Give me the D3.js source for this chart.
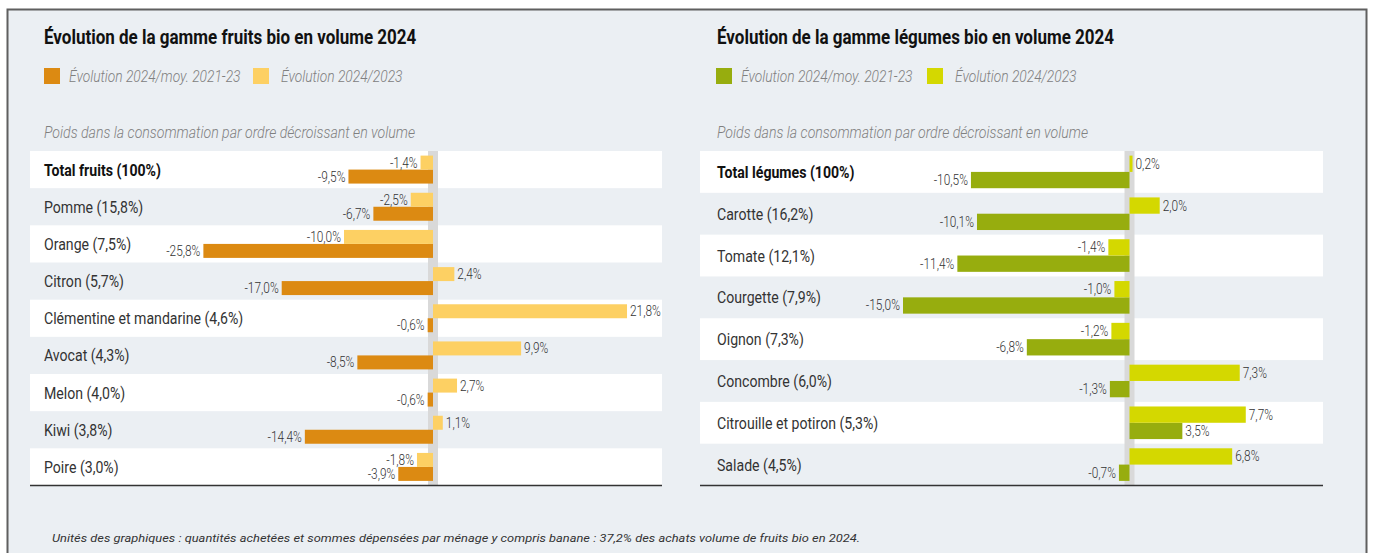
<!DOCTYPE html>
<html>
<head>
<meta charset="utf-8">
<style>
  body { margin: 0; background: #ffffff; }
  svg { display: block; }
  text { font-family: Roboto, "Noto Sans", sans-serif; }
</style>
</head>
<body>
<svg id="svg"></svg>
<script src="https://cdn.jsdelivr.net/npm/d3@7"></script>
<script>
// fruits
var fruitCategories = ["Total fruits (100%)", "Pomme (15,8%)", "Orange (7,5%)", "Citron (5,7%)",
  "Clémentine et mandarine (4,6%)", "Avocat (4,3%)", "Melon (4,0%)", "Kiwi (3,8%)", "Poire (3,0%)"];
var fruitVsAvg = [-9.5, -6.7, -25.8, -17.0, -0.6, -8.5, -0.6, -14.4, -3.9];
var fruitVs2023 = [-1.4, -2.5, -10.0, 2.4, 21.8, 9.9, 2.7, 1.1, -1.8];

// legumes
var vegCategories = ["Total légumes (100%)", "Carotte (16,2%)", "Tomate (12,1%)", "Courgette (7,9%)",
  "Oignon (7,3%)", "Concombre (6,0%)", "Citrouille et potiron (5,3%)", "Salade (4,5%)"];
var vegVsAvg = [-10.5, -10.1, -11.4, -15.0, -6.8, -1.3, 3.5, -0.7];
var vegVs2023 = [0.2, 2.0, -1.4, -1.0, -1.2, 7.3, 7.7, 6.8];

var seriesNames = ["Évolution 2024/moy. 2021-23", "Évolution 2024/2023"];

var width = 1375, height = 553;
var svg = d3.select("#svg").attr("width", width).attr("height", height);

var fr = d3.formatLocale({ decimal: ",", thousands: " ", grouping: [3], currency: ["", "€"], minus: "-" });
var fmt = function (v) { return fr.format(".1f")(v) + "%"; };

// squeeze text horizontally, there is no condensed font here
function place(sel, fx, fy, k) {
  sel.attr("transform", function (d, i) {
    return "translate(" + fx(d, i) + "," + fy(d, i) + ") scale(" + (k || 0.8) + ",1)";
  });
}

// frame
svg.append("rect")
  .attr("x", 7.5).attr("y", 9.5).attr("width", 1359).attr("height", 600)
  .attr("fill", "#ebeff3").attr("stroke", "#5f5f5f").attr("stroke-width", 2);

function panel(opt) {
  var g = svg.append("g");

  g.append("text")
    .attr("font-size", 20).attr("font-weight", "bold").attr("fill", "#111")
    .text(opt.title)
    .call(place, function () { return opt.left; }, function () { return 44; }, 0.85);

  // legend
  var leg = g.selectAll(".leg").data(seriesNames).enter().append("g")
    .attr("transform", function (d, i) { return "translate(" + opt.legendX[i] + ",68)"; });
  leg.append("rect").attr("width", 16).attr("height", 16)
    .attr("fill", function (d, i) { return opt.colors[i]; });
  leg.append("text")
    .attr("font-size", 17).attr("font-style", "italic").attr("font-weight", 300).attr("fill", "#808080")
    .text(function (d) { return d; })
    .call(place, function (d, i) { return i == 0 ? 25 : 28; }, function () { return 14; }, 0.81);

  g.append("text")
    .attr("font-size", 17).attr("font-style", "italic").attr("font-weight", 300).attr("fill", "#808080")
    .text("Poids dans la consommation par ordre décroissant en volume")
    .call(place, function () { return opt.left; }, function () { return 138; }, 0.83);

  var y = d3.scaleBand().domain(opt.categories).range([151, 485.5]);
  var x = d3.scaleLinear().domain(opt.domain).range(opt.range);
  var inner = d3.scaleBand().domain([1, 0]).range([4.6, y.bandwidth() - 4.6]);

  // white rows
  g.selectAll(".row").data(opt.categories).enter().append("rect")
    .filter(function (d, i) { return i % 2 == 0; })
    .attr("x", opt.rowX[0]).attr("width", opt.rowX[1] - opt.rowX[0])
    .attr("y", function (d) { return y(d); }).attr("height", y.bandwidth())
    .attr("fill", "#ffffff");

  // zero band
  g.append("rect")
    .attr("x", x(0) - 5).attr("width", 10)
    .attr("y", 151).attr("height", 335)
    .attr("fill", "#d9d9d9");

  // bottom line
  g.append("line")
    .attr("x1", opt.rowX[0]).attr("x2", opt.rowX[1])
    .attr("y1", 485.5).attr("y2", 485.5)
    .attr("stroke", "#333").attr("stroke-width", 1.5);

  // category labels
  g.selectAll(".cat").data(opt.categories).enter().append("text")
    .attr("font-size", 17)
    .attr("font-weight", function (d, i) { return i == 0 ? "bold" : "normal"; })
    .attr("fill", function (d, i) { return i == 0 ? "#111" : "#333"; })
    .text(function (d) { return d; })
    .call(place, function () { return opt.left; },
      function (d) { return y(d) + y.bandwidth() / 2 + 6; }, 0.83);

  // bars
  var rows = opt.categories.map(function (c, i) {
    return [{ c: c, s: 0, v: opt.avg[i] }, { c: c, s: 1, v: opt.y23[i] }];
  });
  var flat = [].concat.apply([], rows);

  g.selectAll(".bar").data(flat).enter().append("rect")
    .attr("x", function (d) { return x(Math.min(0, d.v)); })
    .attr("width", function (d) { return Math.abs(x(d.v) - x(0)); })
    .attr("y", function (d) { return y(d.c) + inner(d.s); })
    .attr("height", inner.bandwidth())
    .attr("fill", function (d) { return opt.colors[d.s]; });

  g.selectAll(".val").data(flat).enter().append("text")
    .attr("text-anchor", function (d) { return d.v < 0 ? "end" : "start"; })
    .attr("font-size", 14.5).attr("font-weight", 300).attr("fill", "#333")
    .text(function (d) { return fmt(d.v); })
    .call(place, function (d) { return d.v < 0 ? x(d.v) - 3 : x(d.v) + 3; },
      function (d) { return y(d.c) + inner(d.s) + inner.bandwidth() / 2 + 5; }, 0.82);
}

panel({
  title: "Évolution de la gamme fruits bio en volume 2024",
  left: 44, legendX: [44, 253],
  categories: fruitCategories, avg: fruitVsAvg, y23: fruitVs2023,
  colors: ["#dc8a12", "#fdd063"],
  domain: [-30, 25], range: [433 - 30 * 8.9, 433 + 25 * 8.9],
  rowX: [30, 662]
});

panel({
  title: "Évolution de la gamme légumes bio en volume 2024",
  left: 717, legendX: [716, 927],
  categories: vegCategories, avg: vegVsAvg, y23: vegVs2023,
  colors: ["#97ad0e", "#d4d800"],
  domain: [-15, 10], range: [1129.5 - 15 * 15.1, 1129.5 + 10 * 15.1],
  rowX: [700, 1323]
});

// footer
svg.append("text")
  .attr("x", 52).attr("y", 542)
  .attr("font-family", "Lato, 'Open Sans', sans-serif")
  .attr("font-size", 11.5).attr("font-style", "italic").attr("fill", "#333")
  .attr("textLength", 808).attr("lengthAdjust", "spacingAndGlyphs")
  .text("Unités des graphiques : quantités achetées et sommes dépensées par ménage  y compris banane : 37,2% des achats volume de fruits bio en 2024.");
</script>
</body>
</html>
